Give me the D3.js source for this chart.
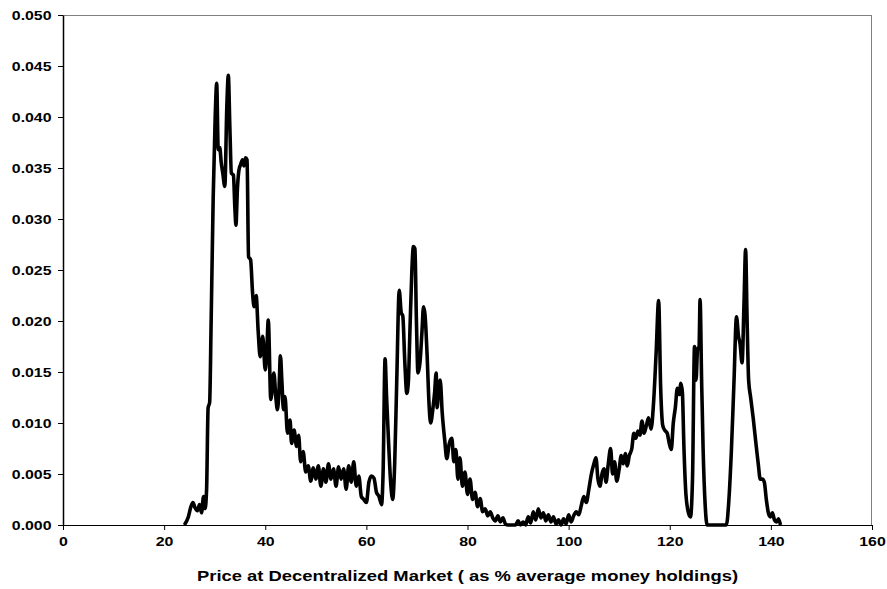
<!DOCTYPE html>
<html>
<head>
<meta charset="utf-8">
<script src="https://cdn.jsdelivr.net/npm/d3@7"></script>
<style>
  body { margin: 0; background: #fff; }
  text { font-family: "Liberation Sans", Arial, sans-serif; font-weight: bold; }
</style>
</head>
<body>
<div id="chart"></div>
<script>
// price (% of average money holdings)
var prices = [24.0, 24.8, 25.3, 25.7, 26.1, 26.6, 27.0, 27.4, 27.8, 28.1, 28.4, 28.7, 29.0, 29.3, 29.7,
  30.1, 30.4, 30.7, 31.0, 31.3, 31.6, 32.0, 32.4, 32.7, 33.0, 33.3, 33.7, 34.0, 34.2, 34.5, 34.8,
  35.1, 35.5, 35.8, 36.1, 36.4, 36.7, 37.1, 37.5, 37.8, 38.2, 38.6, 39.0, 39.5, 40.0, 40.3, 40.6,
  41.1, 41.7, 42.1, 42.4, 42.7, 43.0, 43.3, 43.6, 43.9, 44.4, 44.9, 45.2, 45.7, 46.2, 46.6, 47.0,
  47.5, 48.0, 48.5, 49.0, 49.5, 50.0, 50.5, 51.0, 51.5, 52.0, 52.5, 53.0, 53.5, 54.0, 54.5, 55.0,
  55.5, 56.0, 56.5, 57.0, 57.5, 58.0, 58.5, 59.0, 59.5, 60.0, 60.5, 61.0, 61.5, 62.0, 62.5, 63.0,
  63.3, 63.7, 64.0, 64.4, 64.8, 65.2, 65.6, 66.0, 66.5, 66.9, 67.2, 67.6, 68.0, 68.3, 68.6, 69.0,
  69.3, 69.6, 69.9, 70.2, 70.6, 71.0, 71.3, 71.6, 72.0, 72.4, 72.7, 73.2, 73.5, 73.8, 74.0, 74.3,
  74.6, 75.0, 75.5, 75.9, 76.4, 76.9, 77.3, 77.7, 78.1, 78.5, 79.0, 79.5, 80.0, 80.5, 81.0, 81.5,
  82.0, 82.5, 83.0, 83.5, 84.0, 84.5, 85.0, 85.5, 86.0, 86.5, 87.0, 87.5, 88.0, 89.5, 90.0, 90.5,
  91.0, 91.5, 92.0, 92.5, 93.0, 93.5, 94.0, 94.5, 95.0, 95.5, 96.0, 96.5, 97.0, 97.5, 98.0, 98.5,
  99.0, 99.5, 100.0, 100.5, 101.0, 101.5, 102.0, 102.5, 103.0, 103.5, 104.0, 104.5, 105.0, 105.4,
  105.8, 106.2, 106.6, 107.0, 107.4, 107.8, 108.3, 108.7, 109.1, 109.5, 110.0, 110.4, 110.8, 111.2,
  111.6, 112.0, 112.5, 112.9, 113.3, 113.7, 114.1, 114.5, 114.9, 115.4, 115.8, 116.3, 116.8, 117.3,
  117.8, 118.2, 118.6, 119.0, 119.5, 119.9, 120.3, 120.7, 121.1, 121.5, 121.9, 122.2, 122.5, 122.8,
  123.2, 123.7, 124.1, 124.5, 124.9, 125.2, 125.5, 125.8, 126.0, 126.3, 126.6, 127.0, 127.4, 131.2,
  131.7, 132.2, 132.7, 133.2, 133.6, 133.9, 134.3, 134.7, 135.0, 135.3, 135.6, 136.0, 136.5, 137.0,
  137.5, 137.9, 138.3, 138.7, 139.1, 139.5, 139.9, 140.3, 140.7, 141.1, 141.5, 141.9];

// share of observations at that price
var shares = [0, 0.0008, 0.0018, 0.0022, 0.0017, 0.0014, 0.0020, 0.0012, 0.0028, 0.0016, 0.0035, 0.0115, 0.0120, 0.0200, 0.0320,
  0.0400, 0.0433, 0.0368, 0.0370, 0.0355, 0.0345, 0.0332, 0.0410, 0.0441, 0.0390, 0.0345, 0.0343, 0.0310, 0.0294, 0.0330, 0.0348,
  0.0353, 0.0358, 0.0352, 0.0360, 0.0358, 0.0263, 0.0260, 0.0227, 0.0214, 0.0225, 0.0190, 0.0165, 0.0185, 0.0152, 0.0170, 0.0201,
  0.0123, 0.0149, 0.0125, 0.0113, 0.0130, 0.0166, 0.0140, 0.0113, 0.0126, 0.0090, 0.0103, 0.0080, 0.0093, 0.0077, 0.0088, 0.0062,
  0.0072, 0.0052, 0.0058, 0.0043, 0.0056, 0.0045, 0.0058, 0.0038, 0.0055, 0.0042, 0.0060, 0.0045, 0.0055, 0.0038, 0.0057, 0.0045,
  0.0055, 0.0035, 0.0058, 0.0042, 0.0062, 0.0038, 0.0048, 0.0028, 0.0025, 0.0022, 0.0042, 0.0048, 0.0046, 0.0032, 0.0028, 0.0020,
  0.0050, 0.0163, 0.0125, 0.0080, 0.0042, 0.0025, 0.0060, 0.0140, 0.0230, 0.0208, 0.0205, 0.0160, 0.0129, 0.0140, 0.0188, 0.0250,
  0.0273, 0.0271, 0.0200, 0.0149, 0.0159, 0.0190, 0.0214, 0.0206, 0.0168, 0.0118, 0.0100, 0.0116, 0.0130, 0.0149, 0.0115, 0.0136,
  0.0142, 0.0110, 0.0083, 0.0065, 0.0080, 0.0085, 0.0062, 0.0074, 0.0045, 0.0066, 0.0038, 0.0052, 0.0030, 0.0045, 0.0025, 0.0032,
  0.0018, 0.0026, 0.0013, 0.0016, 0.0009, 0.0013, 0.0007, 0.0004, 0.0009, 0.0003, 0.0007, 0.0001, 0, 0, 0.0004, 0,
  0.0003, 0, 0.0008, 0.0002, 0.0013, 0.0005, 0.0016, 0.0007, 0.0012, 0.0004, 0.0010, 0.0003, 0.0008, 0.0001, 0.0005, 0,
  0.0006, 0.0001, 0.0010, 0.0003, 0.0009, 0.0013, 0.0010, 0.0019, 0.0028, 0.0022, 0.0035, 0.0050, 0.0060, 0.0066,
  0.0045, 0.0038, 0.0050, 0.0055, 0.0042, 0.0058, 0.0075, 0.0050, 0.0062, 0.0043, 0.0055, 0.0068, 0.0060, 0.0070,
  0.0058, 0.0068, 0.0075, 0.0090, 0.0085, 0.0092, 0.0088, 0.0102, 0.0090, 0.0098, 0.0105, 0.0094, 0.0120, 0.0168,
  0.0220, 0.0135, 0.0098, 0.0093, 0.0090, 0.0080, 0.0074, 0.0100, 0.0115, 0.0134, 0.0128, 0.0139, 0.0130, 0.0077,
  0.0030, 0.0012, 0.0008, 0.0045, 0.0175, 0.0142, 0.0172, 0.0175, 0.0221, 0.0142, 0.0074, 0.0020, 0, 0,
  0.0025, 0.0074, 0.0140, 0.0204, 0.0185, 0.0178, 0.0159, 0.0220, 0.0270, 0.0200, 0.0142, 0.0125, 0.0105, 0.0082,
  0.0060, 0.0045, 0.0045, 0.0042, 0.0025, 0.0012, 0.0008, 0.0012, 0.0005, 0.0003, 0.0006, 0];

var xTicks = [0, 20, 40, 60, 80, 100, 120, 140, 160];
var yTicks = [0, 0.005, 0.01, 0.015, 0.02, 0.025, 0.03, 0.035, 0.04, 0.045, 0.05];

// set the dimensions and margins of the graph
var margin = {top: 15, right: 15, bottom: 64, left: 63},
    width = 887 - margin.left - margin.right,
    height = 589 - margin.top - margin.bottom;

// the original text is a bit wide for its height
var stretch = 1.27;

var svg = d3.select("#chart")
  .append("svg")
    .attr("width", 887)
    .attr("height", 589)
  .append("g")
    .attr("transform", "translate(" + margin.left + "," + margin.top + ")");

var x = d3.scaleLinear().domain([0, 160]).range([0, width]);
var y = d3.scaleLinear().domain([0, 0.05]).range([height, 0]);

// plot area frame (top and right in grey)
svg.append("line")
  .attr("x1", 0).attr("x2", width).attr("y1", 0.5).attr("y2", 0.5)
  .attr("stroke", "#808080");
svg.append("line")
  .attr("x1", width - 0.5).attr("x2", width - 0.5).attr("y1", 0).attr("y2", height)
  .attr("stroke", "#808080");

// Y axis
var yAxis = svg.append("g")
  .call(d3.axisLeft(y).tickValues(yTicks).tickFormat(d3.format(".3f")).tickSize(5).tickSizeOuter(0));
yAxis.select(".domain").attr("stroke", "#000").attr("stroke-width", 1.5);
yAxis.selectAll("text")
  .attr("font-size", "12.5px")
  .attr("fill", "#000")
  .attr("x", -11.5 / stretch)
  .attr("transform", "scale(" + stretch + ",1)");

// X axis
var xAxis = svg.append("g")
  .attr("transform", "translate(0," + height + ")")
  .call(d3.axisBottom(x).tickValues(xTicks).tickFormat(d3.format("d")).tickSize(5).tickSizeOuter(0).tickPadding(7));
xAxis.selectAll("text")
  .attr("font-size", "12.5px")
  .attr("fill", "#000")
  .attr("transform", "scale(" + stretch + ",1)");

svg.append("text")
  .attr("x", (width / 2) / stretch)
  .attr("y", height + 56)
  .attr("text-anchor", "middle")
  .attr("font-size", "14.5px")
  .attr("transform", "scale(" + stretch + ",1)")
  .text("Price at Decentralized Market ( as % average money holdings)");

// distribution line
var pts = prices.map(function(p, i) { return [p, shares[i]]; });
svg.append("path")
  .datum(pts)
  .attr("fill", "none")
  .attr("stroke", "#000")
  .attr("stroke-width", 3.6)
  .attr("stroke-linejoin", "round")
  .attr("d", d3.line()
    .x(function(d) { return x(d[0]); })
    .y(function(d) { return y(d[1]); })
    .curve(d3.curveMonotoneX));
</script>
</body>
</html>
